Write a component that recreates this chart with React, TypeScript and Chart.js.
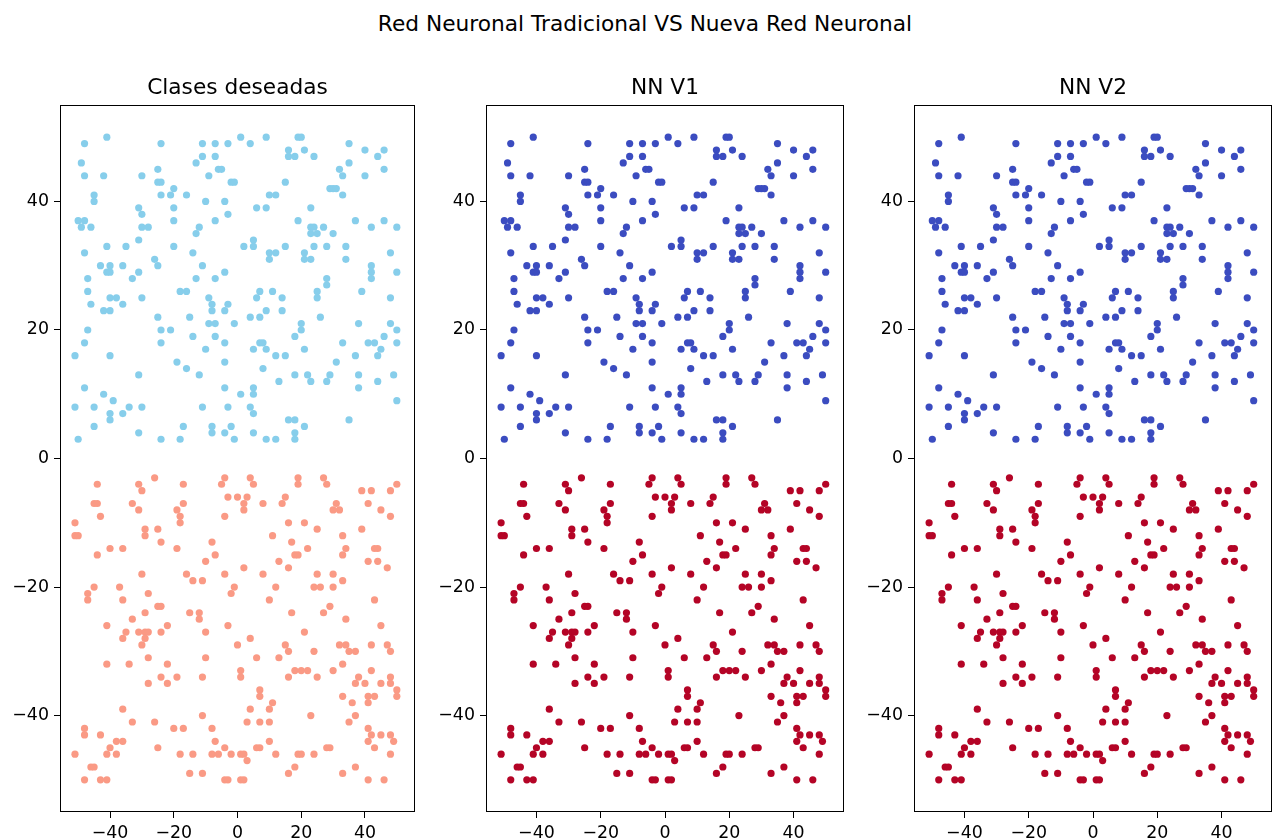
import React, { useEffect, useRef } from "react";
import { Chart, registerables } from "chart.js";

Chart.register(...registerables);

const suptitle = "Red Neuronal Tradicional VS Nueva Red Neuronal";
const panelTitles = ["Clases deseadas", "NN V1", "NN V2"];
const xTicks = [-40, -20, 0, 20, 40];
const yTicks = [-40, -20, 0, 20, 40];

// points of the upper class (y > 0)
const upperPoints: [number, number][] = [
  [-48,49],[-41,50],[-24,49],[-11,49],[-7,49],[-3,49],[1,50],[-49,46],[-48,44],[-42,44],[-30,44],[-25,45],[-25,43],[-24,43],[-13,46],[-11,47],[-7,47],[-6,45],[-5,45],[-9,44],[-2,43],[-1,43],[-45,41],[-45,40],[-24,41],[-21,41],[-20,42],[-16,41],[-10,40],[-4,40],[-31,39],[-30,38],[-20,39],[-50,37],[-48,37],[-49,36],[-46,36],[-30,36],[-28,36],[-20,37],[-3,38],[-7,37],[-12,36],[-13,35],[-31,34],
  [4,49],[9,50],[19,50],[20,50],[16,48],[16,47],[18,47],[21,48],[24,47],[35,49],[40,48],[46,48],[44,47],[35,46],[32,45],[33,44],[40,44],[46,45],[15,43],[29,42],[30,42],[31,42],[33,41],[10,41],[12,41],[6,39],[9,39],[23,39],[19,37],[23,36],[24,36],[23,35],[25,35],[27,36],[30,35],[37,37],[42,36],[46,37],[50,36],[5,34],
  [-48,32],[-41,33],[-35,33],[-20,33],[-14,32],[2,33],[-43,30],[-40,30],[-41,29],[-40,29],[-36,30],[-26,31],[-25,30],[-31,29],[-33,28],[-47,28],[-47,26],[-46,24],[-40,25],[-38,25],[-42,23],[-40,23],[-36,24],[-30,25],[-13,28],[-11,30],[-7,28],[-4,29],[-18,26],[-16,26],[-9,25],[-8,24],[-8,23],[-3,24],[-4,23],[-25,22],[-15,22],[-47,20],[-24,20],[-21,20],[-9,21],[-7,21],[-1,21],[-14,19],[-7,19],[-48,18],[-24,18],[-4,18],[-10,17],
  [5,33],[15,33],[24,33],[28,33],[34,33],[10,32],[12,32],[10,31],[21,32],[21,31],[23,31],[34,31],[48,32],[42,30],[42,29],[42,28],[50,29],[28,28],[28,27],[7,26],[11,26],[6,25],[14,25],[25,26],[25,25],[39,26],[48,25],[9,23],[14,23],[4,22],[7,22],[26,22],[20,21],[20,20],[18,19],[38,21],[48,21],[50,20],[46,19],[7,18],[8,18],[5,17],[9,17],[21,17],[33,18],[41,18],[43,18],[45,17],[50,18],
  [-51,16],[-40,16],[-19,15],[-16,14],[-12,13],[-4,15],[-31,13],[-48,11],[-42,10],[-39,9],[-51,8],[-45,8],[-40,7],[-40,6],[-36,7],[-34,8],[-30,8],[-45,5],[-50,3],[-31,4],[-24,3],[-18,3],[-17,5],[-4,11],[1,10],[-11,8],[-3,8],[-8,5],[-8,4],[-2,5],[-4,4],[-1,3],
  [12,16],[15,16],[37,16],[44,16],[31,15],[8,14],[18,13],[22,13],[29,13],[38,13],[49,13],[13,12],[23,12],[28,12],[44,12],[5,11],[5,10],[38,11],[50,9],[4,8],[5,7],[16,6],[18,6],[21,5],[35,6],[5,4],[18,4],[18,3],[9,3],[12,3],
];

// points of the lower class (y < 0)
const lowerPoints: [number, number][] = [
  [-44,-4],[-26,-3],[-31,-4],[-30,-5],[-17,-4],[-4,-3],[-5,-4],[-3,-6],[0,-6],[-45,-7],[-44,-7],[-33,-7],[-31,-8],[-17,-7],[-19,-8],[-18,-9],[-18,-10],[-43,-9],[-51,-10],[-51,-12],[-50,-12],[-29,-11],[-25,-11],[-29,-12],[-24,-13],[-40,-14],[-36,-14],[-44,-15],[-19,-14],[-4,-9],[-8,-13],[-7,-15],[-10,-16],
  [4,-3],[5,-4],[19,-3],[19,-4],[27,-3],[28,-4],[50,-4],[39,-5],[42,-5],[48,-5],[3,-6],[2,-7],[2,-8],[8,-7],[15,-6],[14,-7],[31,-7],[30,-8],[32,-8],[41,-7],[45,-8],[48,-9],[16,-10],[21,-10],[25,-11],[39,-11],[11,-12],[33,-12],[17,-13],[22,-14],[34,-14],[33,-15],[43,-14],[44,-14],[18,-15],[19,-15],[13,-16],[16,-17],[2,-17],[41,-16],[44,-16],[47,-17],
  [-30,-18],[-16,-18],[-14,-19],[-11,-19],[-4,-18],[-45,-20],[-47,-21],[-47,-22],[-37,-20],[-36,-22],[-28,-21],[-25,-23],[-24,-23],[-29,-24],[-33,-25],[-41,-26],[-35,-27],[-31,-27],[-29,-27],[-28,-27],[-36,-28],[-29,-28],[-30,-29],[-24,-27],[-22,-26],[-15,-24],[-12,-24],[-12,-25],[-10,-27],[-3,-26],[-1,-20],[-2,-21],[0,-29],[-28,-31],[-10,-31],[-41,-32],[-34,-32],[-22,-32],[-24,-34],[-19,-34],[-11,-34],
  [8,-18],[25,-18],[30,-18],[33,-19],[12,-20],[24,-20],[26,-20],[30,-20],[10,-22],[43,-22],[17,-24],[27,-24],[29,-23],[34,-25],[45,-26],[21,-27],[4,-28],[15,-29],[16,-30],[32,-29],[34,-29],[35,-30],[37,-30],[24,-30],[6,-31],[13,-31],[42,-29],[47,-29],[48,-30],[33,-32],[1,-33],[1,-34],[18,-33],[20,-33],[22,-33],[30,-33],[42,-33],[16,-34],[25,-34],[38,-34],[48,-34],
  [-28,-35],[-22,-35],[-36,-39],[-33,-41],[-26,-41],[-11,-40],[-48,-42],[-48,-43],[-43,-43],[-20,-42],[-17,-42],[-8,-42],[-38,-44],[-36,-44],[-40,-45],[-51,-46],[-41,-46],[-38,-46],[-25,-45],[-7,-44],[-4,-45],[-18,-46],[-14,-46],[-8,-46],[-6,-46],[-2,-46],[-46,-48],[-45,-48],[-48,-50],[-43,-50],[-41,-50],[-15,-49],[-11,-49],[-4,-50],[-3,-50],
  [37,-35],[40,-35],[45,-35],[48,-35],[7,-36],[7,-37],[11,-38],[10,-39],[4,-39],[3,-41],[7,-41],[10,-41],[23,-40],[33,-37],[36,-38],[41,-37],[43,-37],[41,-38],[50,-36],[50,-37],[37,-40],[35,-41],[41,-42],[42,-43],[45,-43],[48,-43],[41,-44],[49,-44],[43,-45],[48,-46],[10,-44],[6,-45],[7,-45],[1,-46],[2,-46],[3,-47],[12,-46],[19,-46],[20,-46],[24,-46],[28,-45],[29,-45],[18,-48],[16,-49],[33,-49],[37,-48],[41,-50],[46,-50],[1,-50],[2,-50],
];

const upperColors = ["#87ceeb", "#3b4cc0", "#3b4cc0"];
const lowerColors = ["#fa9a85", "#b40426", "#b40426"];

const FONT = "DejaVu Sans";
const TITLE_SIZE = 21.7;
const TICK_SIZE = 17.4;

const panelBoxes = [
  { left: 0, width: 425, padRight: 10 },
  { left: 426, width: 428, padRight: 10 },
  { left: 854, width: 423, padRight: 5 },
];

const fmt = (v: number) => (v < 0 ? "\u2212" + Math.abs(v) : String(v));

const framePlugin = {
  id: "frame",
  afterDraw(chart: any) {
    const { ctx, chartArea } = chart;
    ctx.save();
    ctx.strokeStyle = "#000";
    ctx.lineWidth = 1;
    const l = Math.round(chartArea.left) + 0.5;
    const t = Math.round(chartArea.top) + 0.5;
    const r = Math.round(chartArea.right) - 0.5;
    const b = Math.round(chartArea.bottom) - 0.5;
    ctx.strokeRect(l, t, r - l, b - t);
    ctx.restore();
  },
};

function Panel({ idx }: { idx: number }) {
  const ref = useRef<HTMLCanvasElement>(null);
  useEffect(() => {
    const canvas = ref.current!;
    const box = panelBoxes[idx];
    const axisCommon = (ticks: number[]) => ({
      type: "linear" as const,
      afterBuildTicks: (s: any) => {
        s.ticks = ticks.map((v) => ({ value: v }));
      },
      grid: {
        drawOnChartArea: false,
        drawTicks: true,
        tickLength: 6,
        color: "#000",
      },
      border: { display: false },
      ticks: {
        color: "#000",
        font: { family: FONT, size: TICK_SIZE },
        padding: 5,
        autoSkip: false,
        maxRotation: 0,
        callback: (v: any) => fmt(Number(v)),
      },
    });
    const chart = new Chart(canvas, {
      type: "scatter",
      data: {
        datasets: [
          {
            data: upperPoints.map(([x, y]) => ({ x, y })),
            backgroundColor: upperColors[idx],
            borderWidth: 0,
            pointRadius: 3.6,
          },
          {
            data: lowerPoints.map(([x, y]) => ({ x, y })),
            backgroundColor: lowerColors[idx],
            borderWidth: 0,
            pointRadius: 3.6,
          },
        ],
      },
      options: {
        animation: false,
        responsive: false,
        devicePixelRatio: 1,
        events: [],
        layout: { padding: { top: 75, right: box.padRight, left: 0, bottom: 0 } },
        plugins: {
          legend: { display: false },
          tooltip: { enabled: false },
          title: {
            display: true,
            fullSize: false,
            text: panelTitles[idx],
            color: "#000",
            font: { family: FONT, size: TITLE_SIZE, weight: "normal", lineHeight: 1.2 },
            padding: { top: 0, bottom: 4 },
          },
        },
        scales: {
          x: {
            ...axisCommon(xTicks),
            min: -55.7,
            max: 55.7,
            afterFit: (s: any) => {
              s.height = 28;
            },
          },
          y: {
            ...axisCommon(yTicks),
            min: -55,
            max: 55,
            afterFit: (s: any) => {
              s.width = 60;
            },
          },
        },
      } as any,
      plugins: [framePlugin],
    });
    return () => chart.destroy();
  }, [idx]);
  const box = panelBoxes[idx];
  return (
    <canvas
      ref={ref}
      width={box.width}
      height={840}
      style={{ position: "absolute", left: box.left, top: 0, width: box.width, height: 840 }}
    />
  );
}

export default function App() {
  return (
    <div style={{ position: "absolute", left: 0, top: 0, width: 1277, height: 840, background: "#fff", overflow: "hidden" }}>
      <div
        style={{
          position: "absolute",
          left: 245,
          width: 800,
          top: 10,
          height: 28,
          lineHeight: "28px",
          textAlign: "center",
          fontFamily: FONT,
          fontSize: TITLE_SIZE,
          color: "#000",
        }}
      >
        {suptitle}
      </div>
      {[0, 1, 2].map((i) => (
        <Panel key={i} idx={i} />
      ))}
    </div>
  );
}
